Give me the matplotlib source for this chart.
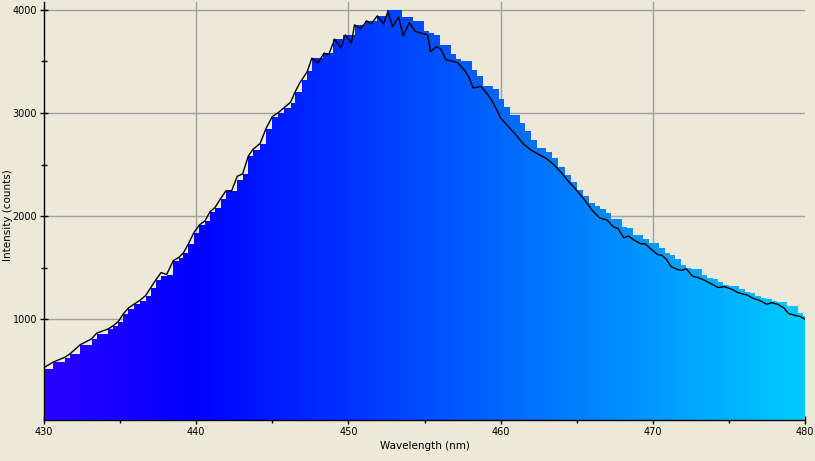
import numpy as np
import matplotlib
matplotlib.use("Agg")
import matplotlib.pyplot as plt
from matplotlib.patches import Polygon
from matplotlib.ticker import FixedLocator

# ---- line series (wavelength nm, intensity counts) ----
line_wl = [430.0, 430.61, 431.38, 431.71, 432.37, 433.13, 433.46, 434.23, 434.56, 434.88,
           435.21, 435.54, 435.94, 436.30, 436.68, 437.03, 437.34, 437.69, 438.06, 438.50,
           438.87, 439.16, 439.48, 439.86, 440.21, 440.58, 440.91, 441.24, 441.61, 441.96,
           442.33, 442.70, 443.05, 443.43, 443.75, 444.2, 444.6, 445.0, 445.4, 445.8,
           446.2, 446.5, 446.8, 447.3, 447.6, 448.0, 448.4,
           448.7, 449.1, 449.5, 449.8, 450.2, 450.4, 450.8, 451.2, 451.5, 451.9,
           452.3, 452.6, 452.9, 453.3, 453.6, 454.0, 454.4, 454.8, 455.2, 455.4,
           455.8, 456.1, 456.4, 456.9, 457.2, 457.6, 457.9, 458.2, 458.7, 459.0,
           459.4, 459.8, 460.0, 460.5, 461.0, 461.5, 462.0, 462.5, 463.0, 463.5,
           464.0, 464.5, 465.0, 465.5, 466.0, 466.5, 467.0, 467.4, 467.7, 468.1,
           468.4, 468.7, 469.2, 469.5, 469.9, 470.3, 470.6, 470.9, 471.2, 471.6,
           471.9, 472.2, 472.6, 473.0, 473.4, 473.9, 474.3, 474.7, 475.2, 475.6,
           476.2, 476.6, 477.0, 477.5, 477.8, 478.2, 478.6, 478.9, 479.3, 479.7,
           480.0]
line_counts = [532, 585, 632, 665, 752, 810, 865, 907, 939, 978,
               1052, 1108, 1149, 1184, 1230, 1311, 1381, 1452, 1435, 1569,
               1601, 1643, 1730, 1843, 1914, 1956, 2043, 2085, 2172, 2246,
               2246, 2387, 2410, 2585, 2650, 2705, 2855, 2965, 3005, 3055,
               3105, 3205, 3291, 3403, 3533, 3485, 3581,
               3565, 3717, 3630, 3759, 3678, 3856, 3817, 3894, 3865, 3943,
               3865, 3985, 3839, 3930, 3749, 3878, 3791, 3775, 3759, 3597,
               3646, 3614, 3517, 3501, 3485, 3420, 3355, 3243, 3259, 3210,
               3130, 3016, 2952, 2870, 2790, 2700, 2640, 2600, 2560, 2500,
               2420, 2330, 2250, 2160, 2060, 1984, 1962, 1897, 1881, 1790,
               1807, 1774, 1732, 1732, 1678, 1629, 1619, 1581, 1510, 1484,
               1474, 1490, 1419, 1403, 1377, 1339, 1307, 1317, 1290, 1258,
               1235, 1203, 1184, 1145, 1161, 1145, 1113, 1058, 1039, 1026,
               1000]

# ---- bar series (left edge nm, height counts) ----
bar_left = [430.0, 430.61, 431.38, 431.71, 432.37, 433.13, 433.46, 434.23, 434.56, 434.88,
            435.21, 435.54, 435.94, 436.30, 436.68, 437.03, 437.34, 437.69, 438.06, 438.50,
            438.87, 439.16, 439.48, 439.86, 440.21, 440.58, 440.91, 441.24, 441.61, 441.96,
            442.70, 443.05, 443.43, 443.75, 444.2, 444.6, 445.0, 445.4, 445.8, 446.2,
            446.5, 446.93, 447.26, 447.63, 448.30, 449.00, 449.66, 450.43, 451.09, 451.86,
            452.56, 453.50, 454.26, 454.96, 455.31, 455.64, 456.02, 456.72, 457.07, 457.40,
            458.10, 458.43, 458.82, 459.48, 459.91, 460.22, 460.60, 461.27, 461.6, 462.0,
            462.4, 463.0, 463.4, 463.8, 464.2, 464.6, 465.0, 465.4, 465.8, 466.2,
            466.53, 466.93, 467.25, 467.97, 468.30, 468.72, 469.37, 469.75, 470.41, 470.80,
            471.13, 471.46, 471.85, 472.18, 472.51, 473.21, 473.58, 473.93, 474.30, 474.63,
            474.99, 475.66, 476.06, 476.39, 476.71, 477.11, 477.44, 477.81, 478.14, 478.80,
            479.56, 479.89]
bar_height = [516, 581, 629, 661, 748, 806, 861, 903, 935, 974,
              1048, 1104, 1145, 1180, 1226, 1307, 1377, 1419, 1430, 1565,
              1597, 1639, 1726, 1839, 1910, 1952, 2039, 2081, 2168, 2242,
              2355, 2404, 2581, 2646, 2700, 2850, 2960, 3000, 3050, 3100,
              3200, 3323, 3403, 3533, 3581, 3717, 3759, 3856, 3894, 3943,
              3995, 3936, 3888, 3797, 3775, 3759, 3662, 3575, 3523, 3506,
              3420, 3355, 3266, 3233, 3140, 3055, 2984, 2900, 2830, 2740,
              2660, 2620, 2560, 2480, 2400, 2330, 2250, 2200, 2130, 2100,
              2074, 2033, 1968, 1897, 1881, 1813, 1774, 1736, 1687, 1639,
              1626, 1581, 1523, 1494, 1484, 1426, 1403, 1387, 1365, 1336,
              1320, 1297, 1268, 1252, 1226, 1210, 1200, 1174, 1165, 1126,
              1065, 1032]

x_ticks = [430, 440, 450, 460, 470, 480]
x_minor = [435, 445, 455, 465, 475]
x_grid = [440, 450, 460, 470]
y_ticks = [1000, 2000, 3000, 4000]
y_minor = [1500, 2500, 3500]
x_label = "Wavelength (nm)"
y_label = "Intensity (counts)"

X_MIN, X_MAX = 430, 480
Y_MIN, Y_MAX = 23, 4077
BG = "#ECE9D8"
GRID = "#A0A0A0"

plt.rcParams['font.family'] = ['DejaVu Sans']

fig = plt.figure(figsize=(8.15, 4.61), dpi=100, facecolor=BG)
ax = fig.add_axes([44 / 815, (461 - 420) / 461, (805 - 44) / 815, (420 - 2) / 461])
ax.set_facecolor(BG)

# wavelength -> RGB gradient
cols = np.linspace(X_MIN, X_MAX, 800)
r = np.where(cols < 440, (440 - cols) / 60.0, 0.0)
g = np.where(cols < 440, 0.0, (cols - 440) / 50.0)
b = np.ones_like(cols)
rgb = np.clip(np.stack([r, g, b], axis=-1)[None, :, :], 0, 1)

# step outline built from bars
edges = list(bar_left) + [X_MAX]
verts = [(edges[0], Y_MIN)]
for i, h in enumerate(bar_height):
    verts.append((edges[i], h))
    verts.append((edges[i + 1], h))
verts.append((edges[-1], Y_MIN))
poly = Polygon(verts, closed=True, transform=ax.transData, facecolor='none', edgecolor='none')
ax.add_patch(poly)

im = ax.imshow(rgb, extent=(X_MIN, X_MAX, Y_MIN, Y_MAX), aspect='auto',
               interpolation='bilinear', zorder=2, origin='lower')
im.set_clip_path(poly)

ax.plot(line_wl, line_counts, color='black', lw=1.0, zorder=3)

# gridlines
for gx in x_grid:
    ax.axvline(gx, color=GRID, lw=1.0, zorder=1)
for gy in y_ticks:
    ax.axhline(gy, color=GRID, lw=1.0, zorder=1)

ax.set_xlim(X_MIN, X_MAX)
ax.set_ylim(Y_MIN, Y_MAX)
ax.set_xticks(x_ticks)
ax.set_yticks(y_ticks)
ax.xaxis.set_minor_locator(FixedLocator(x_minor))
ax.yaxis.set_minor_locator(FixedLocator(y_minor))

for s in ['top', 'right']:
    ax.spines[s].set_visible(False)
for s in ['left', 'bottom']:
    ax.spines[s].set_color('black')
    ax.spines[s].set_linewidth(1.0)
    ax.spines[s].set_zorder(4)

ax.tick_params(which='major', direction='inout', length=6, width=1, labelsize=7, pad=2,
               colors='black')
ax.tick_params(which='minor', direction='inout', length=4, width=1)

ax.set_xlabel(x_label, fontsize=7.5, labelpad=3)
ax.set_ylabel(y_label, fontsize=7.5)
ax.yaxis.set_label_coords(-0.041, 0.49)

fig.savefig("out.png", dpi=100, facecolor=BG)
